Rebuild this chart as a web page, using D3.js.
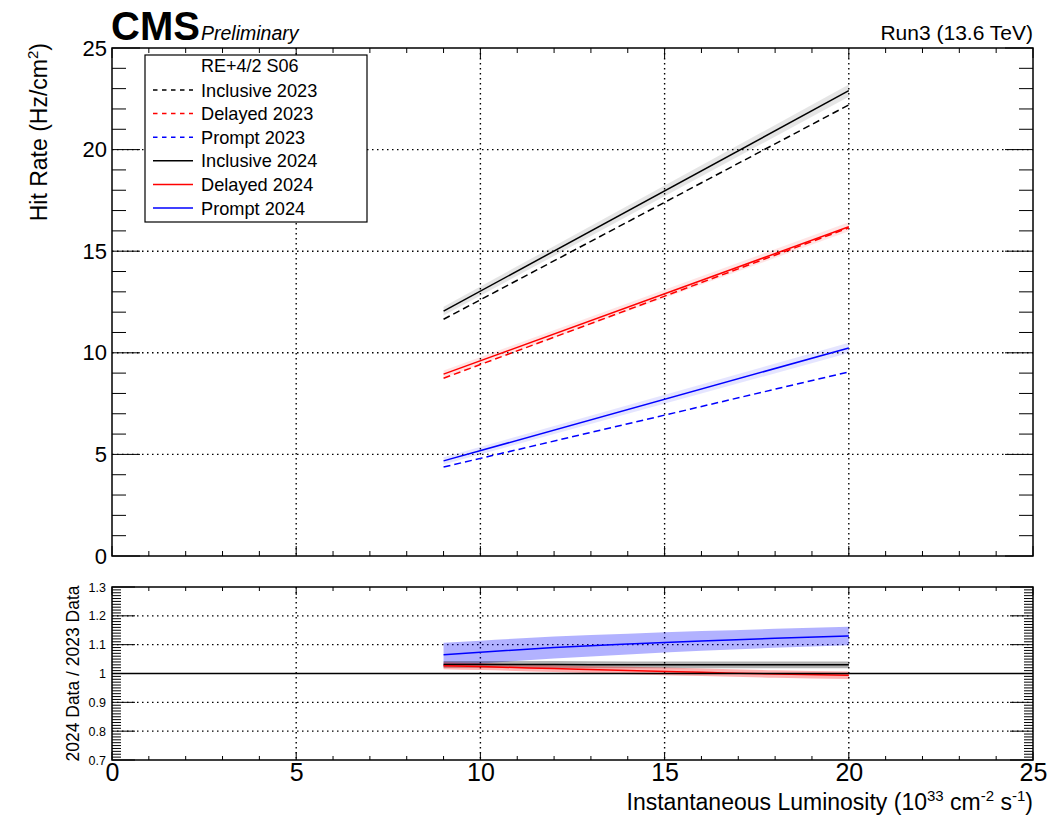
<!DOCTYPE html>
<html>
<head>
<meta charset="utf-8">
<script src="https://cdn.jsdelivr.net/npm/d3@7"></script>
<style>
  body { margin: 0; background: #fff; }
  svg text { font-family: "Liberation Sans", Arial, Helvetica, sans-serif; }
</style>
</head>
<body>
<div id="chart"></div>
<script>
// luminosity points of the fitted lines (10^33 cm^-2 s^-1)
const lumi = [9, 20];

// hit rate (Hz/cm2) at each end of the fits
const inclusive2023 = [11.65, 22.2];
const delayed2023 = [8.75, 16.15];
const prompt2023 = [4.38, 9.06];
const inclusive2024 = [12.05, 22.9];
const delayed2024 = [8.95, 16.2];
const prompt2024 = [4.68, 10.24];

// uncertainty bands on the 2024 fits
const inclusive2024Err = [0.22, 0.3];
const delayed2024Err = [0.18, 0.22];
const prompt2024Err = [0.18, 0.25];

// ratio panel, read at these luminosities
const lumiRatio = [9, 10, 12, 14, 16, 18, 20];
const ratioInclusive = [1.031, 1.031, 1.031, 1.030, 1.030, 1.030, 1.030];
const ratioDelayed = [1.027, 1.024, 1.017, 1.010, 1.004, 0.998, 0.994];
const ratioPrompt = [1.065, 1.074, 1.090, 1.102, 1.113, 1.122, 1.130];
const ratioInclusiveErr = [0.012, 0.012, 0.012, 0.012, 0.012, 0.012, 0.012];
const ratioDelayedErr = [0.012, 0.012, 0.012, 0.013, 0.013, 0.013, 0.013];
const ratioPromptErr = [0.042, 0.040, 0.038, 0.036, 0.034, 0.033, 0.032];

const legendLabels = ["Inclusive 2023", "Delayed 2023", "Prompt 2023",
                      "Inclusive 2024", "Delayed 2024", "Prompt 2024"];

let width = 1064, height = 815;
let svg = d3.select('#chart').append('svg')
  .attr('width', width).attr('height', height);

let left = 112, right = 1033;
let top1 = 48, bot1 = 556, top2 = 587, bot2 = 760;

let x = d3.scaleLinear().domain([0, 25]).range([left, right]);
let y = d3.scaleLinear().domain([0, 25]).range([bot1, top1]);
let yr = d3.scaleLinear().domain([0.7, 1.3]).range([bot2, top2]);

// grid lines
function grid(g, ys, yScale, yTop, yBot) {
  [5, 10, 15, 20].forEach(v => {
    g.append('line').attr('x1', x(v)).attr('x2', x(v))
      .attr('y1', yTop).attr('y2', yBot)
      .attr('stroke', 'black').attr('stroke-width', 1.4).attr('stroke-dasharray', '1.5,3.5');
  });
  ys.forEach(v => {
    g.append('line').attr('x1', left).attr('x2', right)
      .attr('y1', yScale(v)).attr('y2', yScale(v))
      .attr('stroke', 'black').attr('stroke-width', 1.4).attr('stroke-dasharray', '1.5,3.5');
  });
}
grid(svg.append('g'), [5, 10, 15, 20], y, top1, bot1);
grid(svg.append('g'), [0.8, 0.9, 1.1, 1.2], yr, top2, bot2);

// ticks drawn inwards on all four sides
function ticks(yScale, yTop, yBot, yMajor, yMinor, yMajLen, yMinLen, xMajLen, xMinLen) {
  let g = svg.append('g').attr('stroke', 'black').attr('stroke-width', 1);
  const xMinor = d3.range(0, 26, 1);
  xMinor.forEach(v => {
    let len = v % 5 === 0 ? xMajLen : xMinLen;
    g.append('line').attr('x1', x(v)).attr('x2', x(v)).attr('y1', yBot).attr('y2', yBot - len);
    g.append('line').attr('x1', x(v)).attr('x2', x(v)).attr('y1', yTop).attr('y2', yTop + len);
  });
  yMinor.forEach(v => {
    let len = yMajor.some(m => Math.abs(m - v) < 1e-6) ? yMajLen : yMinLen;
    g.append('line').attr('x1', left).attr('x2', left + len).attr('y1', yScale(v)).attr('y2', yScale(v));
    g.append('line').attr('x1', right).attr('x2', right - len).attr('y1', yScale(v)).attr('y2', yScale(v));
  });
}
ticks(y, top1, bot1, [0, 5, 10, 15, 20, 25], d3.range(0, 26, 1), 28, 14, 10, 5);
ticks(yr, top2, bot2, [0.7, 0.8, 0.9, 1.0, 1.1, 1.2, 1.3],
      d3.range(70, 131, 1).map(v => v / 100), 23, 9, 8, 4);

// y axis labels via d3 axes (tick lines hidden)
let yAxis = svg.append('g').attr('transform', `translate(${left},0)`)
  .call(d3.axisLeft(y).tickValues([0, 5, 10, 15, 20, 25]).tickSize(0).tickPadding(5));
yAxis.select('.domain').remove();
yAxis.selectAll('text').style('font-size', '22px').attr('font-family', null);

let yrAxis = svg.append('g').attr('transform', `translate(${left},0)`)
  .call(d3.axisLeft(yr).tickValues([0.7, 0.8, 0.9, 1.0, 1.1, 1.2, 1.3])
        .tickFormat(d => d3.format('')(+d.toFixed(1))).tickSize(0).tickPadding(6));
yrAxis.select('.domain').remove();
yrAxis.selectAll('text').style('font-size', '12.5px').attr('font-family', null);

let xAxis = svg.append('g').attr('transform', `translate(0,${bot2})`)
  .call(d3.axisBottom(x).tickValues([0, 5, 10, 15, 20, 25]).tickSize(0).tickPadding(3));
xAxis.select('.domain').remove();
xAxis.selectAll('text').style('font-size', '25px').attr('font-family', null);

// bands and lines, upper panel
const series = [
  { v: inclusive2023, c: 'black', dash: true },
  { v: delayed2023, c: 'red', dash: true },
  { v: prompt2023, c: 'blue', dash: true },
  { v: inclusive2024, c: 'black', dash: false, e: inclusive2024Err, band: 'rgba(0,0,0,0.1)' },
  { v: delayed2024, c: 'red', dash: false, e: delayed2024Err, band: 'rgba(255,0,0,0.1)' },
  { v: prompt2024, c: 'blue', dash: false, e: prompt2024Err, band: 'rgba(0,0,255,0.1)' }
];

let area = d3.area().x(d => x(d.x)).y0(d => y(d.lo)).y1(d => y(d.hi));
let line = d3.line().x(d => x(d.x)).y(d => y(d.y));

series.filter(s => s.e).forEach(s => {
  svg.append('path')
    .datum(lumi.map((l, i) => ({ x: l, lo: s.v[i] - s.e[i], hi: s.v[i] + s.e[i] })))
    .attr('d', area).attr('fill', s.band);
});
series.forEach(s => {
  svg.append('path')
    .datum(lumi.map((l, i) => ({ x: l, y: s.v[i] })))
    .attr('d', line).attr('fill', 'none').attr('stroke', s.c)
    .attr('stroke-width', 1.5)
    .attr('stroke-dasharray', s.dash ? '7,4' : null);
});

// ratio panel
const ratios = [
  { v: ratioPrompt, e: ratioPromptErr, c: 'blue', band: 'rgba(0,0,255,0.3)' },
  { v: ratioInclusive, e: ratioInclusiveErr, c: 'black', band: 'rgba(0,0,0,0.3)' },
  { v: ratioDelayed, e: ratioDelayedErr, c: 'red', band: 'rgba(255,0,0,0.3)' }
];
let areaR = d3.area().x(d => x(d.x)).y0(d => yr(d.lo)).y1(d => yr(d.hi)).curve(d3.curveMonotoneX);
let lineR = d3.line().x(d => x(d.x)).y(d => yr(d.y)).curve(d3.curveMonotoneX);
ratios.forEach(r => {
  svg.append('path')
    .datum(lumiRatio.map((l, i) => ({ x: l, lo: r.v[i] - r.e[i], hi: r.v[i] + r.e[i] })))
    .attr('d', areaR).attr('fill', r.band);
});
ratios.forEach(r => {
  svg.append('path')
    .datum(lumiRatio.map((l, i) => ({ x: l, y: r.v[i] })))
    .attr('d', lineR).attr('fill', 'none').attr('stroke', r.c).attr('stroke-width', 1.5);
});

// unity line
svg.append('line').attr('x1', left).attr('x2', right)
  .attr('y1', yr(1)).attr('y2', yr(1)).attr('stroke', 'black').attr('stroke-width', 1.3);

// frames
[[top1, bot1], [top2, bot2]].forEach(([t, b]) => {
  svg.append('rect').attr('x', left).attr('y', t)
    .attr('width', right - left).attr('height', b - t)
    .attr('fill', 'none').attr('stroke', 'black').attr('stroke-width', 1.5);
});

// legend
let lg = svg.append('g');
lg.append('rect').attr('x', 145).attr('y', 55).attr('width', 222).attr('height', 167)
  .attr('fill', 'white').attr('stroke', 'black').attr('stroke-width', 1.2);
lg.append('text').attr('x', 201).attr('y', 72).style('font-size', '18px').text('RE+4/2 S06');
legendLabels.forEach((lab, i) => {
  let yy = 90 + i * 23.6;
  lg.append('line').attr('x1', 153).attr('x2', 193).attr('y1', yy).attr('y2', yy)
    .attr('stroke', series[i].c).attr('stroke-width', 1.5)
    .attr('stroke-dasharray', series[i].dash ? '4.5,4.5' : null);
  lg.append('text').attr('x', 201).attr('y', yy + 6.5).style('font-size', '18.2px').text(lab);
});

// header texts
svg.append('text').attr('x', 111).attr('y', 40)
  .style('font-size', '40px').style('font-weight', 'bold').text('CMS');
svg.append('text').attr('x', 201).attr('y', 40)
  .style('font-size', '19.5px').style('font-style', 'italic').text('Preliminary');
svg.append('text').attr('x', right).attr('y', 40).attr('text-anchor', 'end')
  .style('font-size', '21px').text('Run3 (13.6 TeV)');

// axis titles
let yt = svg.append('text').attr('transform', 'translate(47,43) rotate(-90)')
  .attr('text-anchor', 'end').style('font-size', '23px');
yt.append('tspan').text('Hit Rate (Hz/cm');
yt.append('tspan').attr('dy', -9).style('font-size', '15px').text('2');
yt.append('tspan').attr('dy', 9).text(')');

svg.append('text').attr('transform', `translate(79,${(top2 + bot2) / 2}) rotate(-90)`)
  .attr('text-anchor', 'middle').style('font-size', '17.5px').text('2024 Data / 2023 Data');

let xt = svg.append('text').attr('x', right).attr('y', 810).attr('text-anchor', 'end')
  .style('font-size', '23px');
xt.append('tspan').text('Instantaneous Luminosity (10');
xt.append('tspan').attr('dy', -9).style('font-size', '15px').text('33');
xt.append('tspan').attr('dy', 9).text(' cm');
xt.append('tspan').attr('dy', -9).style('font-size', '15px').text('-2');
xt.append('tspan').attr('dy', 9).text(' s');
xt.append('tspan').attr('dy', -9).style('font-size', '15px').text('-1');
xt.append('tspan').attr('dy', 9).text(')');
</script>
</body>
</html>
